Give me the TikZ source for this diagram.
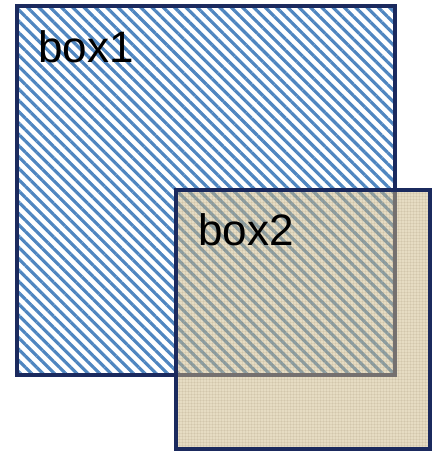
\documentclass[tikz,border=0pt]{standalone}
\usepackage{fontspec}
\setmainfont{Liberation Sans}
\usetikzlibrary{patterns.meta}
\definecolor{stripeblue}{RGB}{79,134,192}
\definecolor{navy}{RGB}{27,42,94}
\definecolor{linen}{RGB}{205,185,135}
\definecolor{weave}{RGB}{130,110,80}
\tikzset{
  boxline/.style={draw=navy, line width=4pt, inner sep=0pt, outer sep=0pt, anchor=north west},
  stripebox/.style={boxline, pattern={Lines[angle=-45, distance=8pt, line width=3.2pt]}, pattern color=stripeblue},
  linenfill/.style={fill=linen, fill opacity=0.5, draw=none, inner sep=0pt, outer sep=0pt, anchor=north west},
  weaveline/.style={draw=weave, draw opacity=0.10, line width=0.8pt},
  lbl/.style={font=\fontsize{44}{50}\selectfont, inner sep=0pt, anchor=base west, text=black}
}
\begin{document}
\begin{tikzpicture}[x=1pt,y=-1pt]
\useasboundingbox (0,0) rectangle (434,455);
\node[stripebox, minimum width=378pt, minimum height=369pt] (b1) at (17,6) {};
\node[lbl] (t1) at (38,62) {box1};
\node[linenfill, minimum width=254pt, minimum height=259pt] (b2fill) at (176,190) {};
\foreach \i in {3,6,...,252} {
  \draw[weaveline] ([xshift=\i pt]b2fill.north west) -- ([xshift=\i pt]b2fill.south west);
}
\foreach \i in {3,6,...,257} {
  \draw[weaveline] ([yshift=-\i pt]b2fill.north west) -- ([yshift=-\i pt]b2fill.north east);
}
\node[boxline, minimum width=254pt, minimum height=259pt] (b2) at (176,190) {};
\node[lbl] (t2) at (198,245) {box2};
\end{tikzpicture}
\end{document}
